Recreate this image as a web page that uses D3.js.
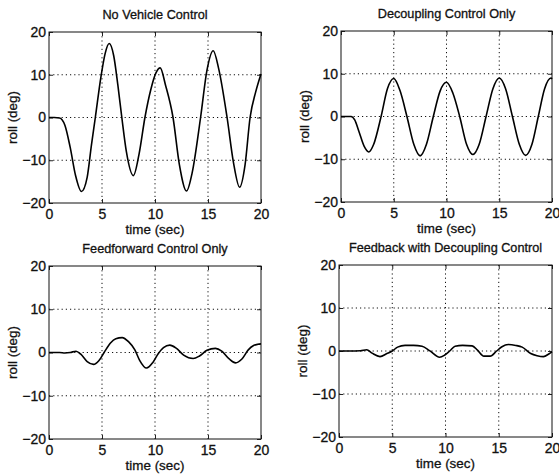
<!DOCTYPE html>
<html lang="en-US">
<head>
  <meta charset="UTF-8"/>
  <title>Roll response</title>
  <script src="https://cdn.jsdelivr.net/npm/d3@7"></script>
  <style>
    body { margin: 0; background: #fff; }
    svg { display: block; font-family: "Liberation Sans", Arial, sans-serif; }
    text { stroke: #111; stroke-width: 0.3px; }
    .tick text { font-size: 14px; fill: #111; }
    .tick line { stroke: #222; }
    .domain { display: none; }
  </style>
</head>
<body>
<svg id="chart" width="559" height="474"></svg>
<script>
// panel titles
var titles = ["No Vehicle Control", "Decoupling Control Only",
              "Feedforward Control Only", "Feedback with Decoupling Control"];

var xTicks = [0, 5, 10, 15, 20];
var yTicks = [-20, -10, 0, 10, 20];

// [time (sec), roll (deg)]
var noControl = [[0,0],[0.5,0],[1.0,-0.1],[1.5,-1.8],[2.0,-7],[2.5,-13.5],[3.06,-17.3],[3.6,-14],
  [4.0,-6.5],[4.37,0],[4.9,9.5],[5.3,15],[5.68,17.3],[6.1,14.5],[6.5,7.5],[6.87,0],[7.3,-8],
  [7.96,-13.6],[8.5,-8.5],[9.05,0],[9.6,6.5],[10.1,10.5],[10.49,11.6],[11.0,7.5],[11.7,0],
  [12.3,-11],[12.98,-17.2],[13.5,-13],[14.3,0],[14.9,11],[15.49,15.6],[16.0,11.5],[16.8,0],
  [17.4,-10.5],[17.98,-16.3],[18.5,-11],[18.97,0],[19.5,6],[20,10.2]];

var decoupling = [[0,0],[0.5,0],[0.95,0],[1.3,-0.8],[1.7,-3.5],[2.2,-7],[2.63,-8.3],[3.1,-6.5],
  [3.8,0],[4.4,6.5],[5.0,8.9],[5.6,6],[6.25,0],[6.9,-6.5],[7.5,-9.2],[8.1,-6.5],[8.75,0],
  [9.4,6],[10.0,8.0],[10.6,5.5],[11.25,0],[11.9,-6.5],[12.5,-8.9],[13.1,-6.5],[13.75,0],
  [14.4,6.5],[15.0,9.0],[15.6,6.5],[16.25,0],[16.9,-6.5],[17.5,-9.1],[18.1,-6.5],[18.7,0],
  [19.3,6.5],[19.9,9],[20,8.8]];

var feedforward = [[0,0],[0.5,0],[1.0,0],[1.5,-0.1],[2.0,0],[2.55,0.3],[3.0,-0.4],[3.6,-2.1],
  [4.2,-2.75],[4.7,-1.9],[5.2,0],[5.8,2.2],[6.3,3.2],[6.9,3.45],[7.5,2.5],[8.1,0.6],[8.55,-1.8],
  [9.2,-3.6],[9.8,-2.3],[10.3,-0.3],[10.8,1.1],[11.4,1.7],[12.0,1.0],[12.7,-0.6],[13.6,-1.4],
  [14.2,-0.8],[14.9,0.5],[15.7,0.95],[16.3,0.3],[17.0,-1.5],[17.6,-2.4],[18.2,-1.5],[18.8,0.6],
  [19.3,1.6],[19.7,1.9],[20,2.0]];

var feedback = [[0,0],[1.0,0],[2.0,0.05],[2.6,0.3],[3.1,-0.5],[3.85,-1.3],[4.5,-0.6],[5.0,0],
  [5.5,0.9],[6.2,1.3],[7.0,1.3],[7.8,1.1],[8.5,0.1],[9.45,-1.45],[9.9,-1.0],[10.4,0],[10.9,1.1],
  [11.6,1.3],[12.5,1.2],[13.0,0.2],[13.6,-1.2],[14.2,-1.2],[14.8,0],[15.3,1.0],[15.9,1.5],
  [16.6,1.3],[17.2,0.9],[18.0,-0.6],[18.6,-1.1],[19.2,-1.3],[19.7,-0.7],[20,-0.2]];

var series = [noControl, decoupling, feedforward, feedback];

// plot boxes (left, top, right, bottom) in pixels
var boxes = [
  {l: 49,  t: 32,  r: 261, b: 203},
  {l: 341, t: 31,  r: 552, b: 202},
  {l: 49,  t: 266, r: 261, b: 439},
  {l: 339, t: 265, r: 552, b: 437}
];

var svg = d3.select("#chart");

boxes.forEach(function(bx, i) {
  var w = bx.r - bx.l, h = bx.b - bx.t;
  var x = d3.scaleLinear().domain([0, 20]).range([0, w]);
  var y = d3.scaleLinear().domain([-20, 20]).range([h, 0]);

  var g = svg.append("g").attr("transform", "translate(" + bx.l + "," + bx.t + ")");

  // dotted grid
  g.selectAll(".gx").data(xTicks.slice(1, -1)).enter().append("line")
    .attr("x1", d => x(d)).attr("x2", d => x(d)).attr("y1", 0).attr("y2", h)
    .attr("stroke", "#111").attr("stroke-width", 1).attr("stroke-dasharray", "1.2,3");
  g.selectAll(".gy").data(yTicks.slice(1, -1)).enter().append("line")
    .attr("y1", d => y(d)).attr("y2", d => y(d)).attr("x1", 0).attr("x2", w)
    .attr("stroke", "#111").attr("stroke-width", 1).attr("stroke-dasharray", "1.2,3");

  // axes with inward ticks
  g.append("g").attr("transform", "translate(0," + h + ")")
    .call(d3.axisBottom(x).tickValues(xTicks).tickSize(-4).tickPadding(6));
  g.append("g")
    .call(d3.axisLeft(y).tickValues(yTicks).tickSize(-4).tickPadding(3));
  g.append("g")
    .call(d3.axisTop(x).tickValues(xTicks).tickSize(-4).tickFormat(""));
  g.append("g").attr("transform", "translate(" + w + ",0)")
    .call(d3.axisRight(y).tickValues(yTicks).tickSize(-4).tickFormat(""));

  // frame
  g.append("rect").attr("width", w).attr("height", h)
    .attr("fill", "none").attr("stroke", "#111").attr("stroke-width", 1);

  // curve
  var line = d3.line()
    .x(d => x(d[0]))
    .y(d => y(d[1]))
    .curve(d3.curveMonotoneX);
  g.append("path").datum(series[i])
    .attr("fill", "none").attr("stroke", "#000").attr("stroke-width", 1.6)
    .attr("d", line);

  // labels
  g.append("text").attr("x", w / 2).attr("y", -13)
    .attr("text-anchor", "middle").attr("font-size", 12.7).attr("fill", "#111")
    .text(titles[i]);
  g.append("text").attr("x", w / 2).attr("y", h + 31)
    .attr("text-anchor", "middle").attr("font-size", 13.4).attr("fill", "#111")
    .text("time (sec)");
  g.append("text")
    .attr("transform", "translate(" + (-32) + "," + (h / 2) + ") rotate(-90)")
    .attr("text-anchor", "middle").attr("font-size", 13.4).attr("fill", "#111")
    .text("roll (deg)");
});
</script>
</body>
</html>
